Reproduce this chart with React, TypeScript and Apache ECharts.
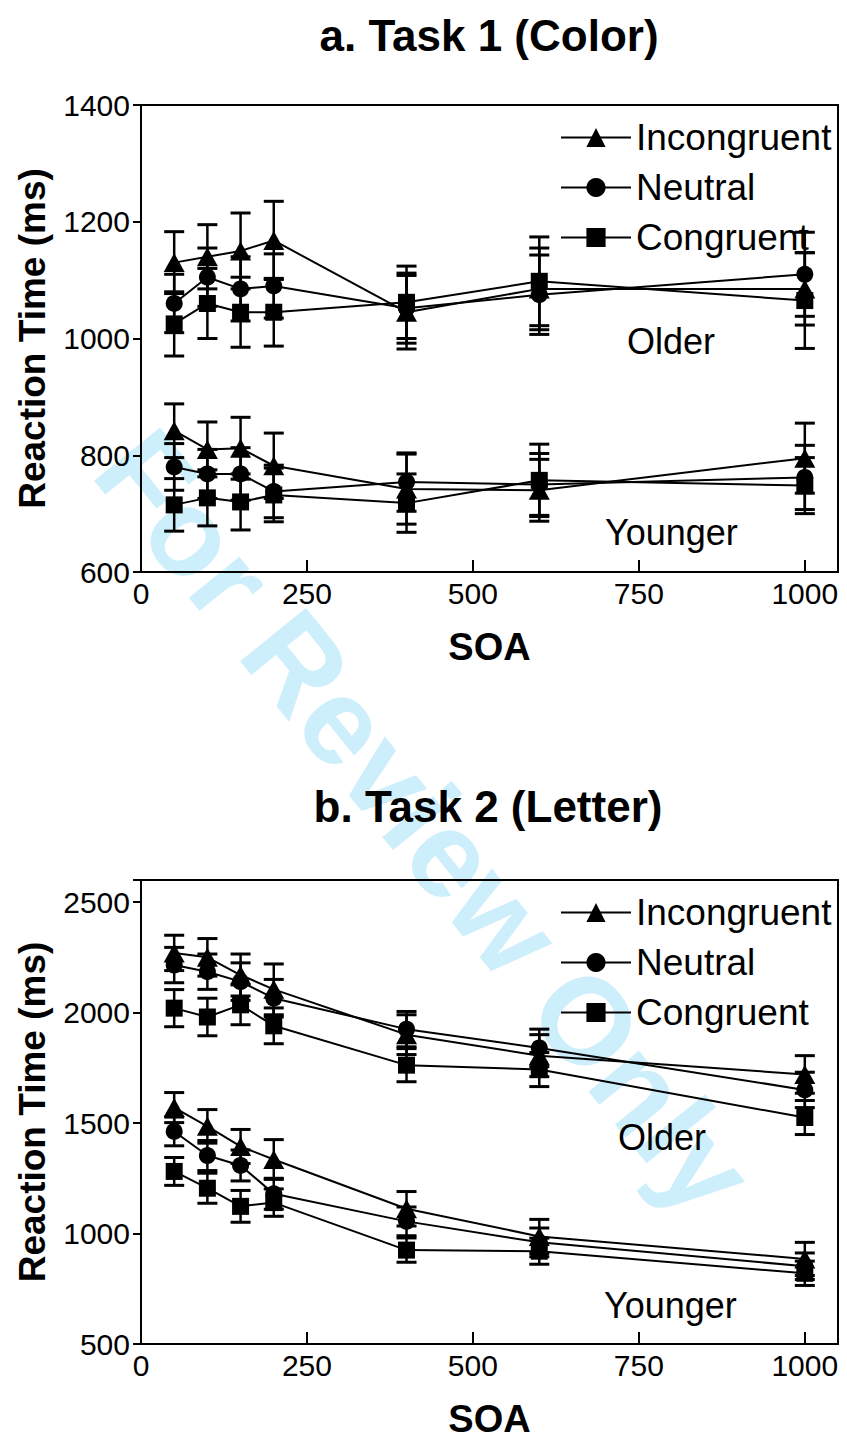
import React, { useEffect, useRef } from "react";
import * as echarts from "echarts";

// SOA levels (ms)
const SOA = [50, 100, 150, 200, 400, 600, 1000];
const CONDITIONS = ["Incongruent", "Neutral", "Congruent"];
const X_TICKS = [0, 250, 500, 750, 1000];

// Task 1 (Color) — mean RT (ms)
const t1OlderIncong = [1130, 1140, 1150, 1168, 1045, 1085, 1085];
const t1OlderNeutral = [1060, 1105, 1085, 1090, 1052, 1075, 1110];
const t1OlderCong = [1025, 1060, 1045, 1045, 1062, 1098, 1065];
const t1YoungerIncong = [842, 810, 812, 782, 742, 740, 795];
const t1YoungerNeutral = [780, 768, 768, 738, 754, 750, 762];
const t1YoungerCong = [715, 727, 720, 732, 718, 757, 748];
// Task 1 standard errors
const t1OlderIncongErr = [53, 55, 65, 67, 63, 70, 62];
const t1OlderNeutralErr = [50, 50, 55, 55, 60, 68, 72];
const t1OlderCongErr = [55, 60, 60, 58, 62, 76, 82];
const t1YoungerIncongErr = [46, 47, 53, 56, 60, 53, 60];
const t1YoungerNeutralErr = [40, 42, 45, 45, 50, 53, 55];
const t1YoungerCongErr = [45, 48, 48, 46, 50, 62, 48];

// Task 2 (Letter) — mean RT (ms)
const t2OlderIncong = [2270, 2250, 2170, 2105, 1900, 1805, 1720];
const t2OlderNeutral = [2215, 2185, 2140, 2065, 1925, 1840, 1650];
const t2OlderCong = [2020, 1980, 2035, 1940, 1762, 1742, 1525];
const t2YoungerIncong = [1570, 1485, 1394, 1335, 1112, 987, 885];
const t2YoungerNeutral = [1462, 1353, 1308, 1180, 1055, 960, 852];
const t2YoungerCong = [1281, 1205, 1123, 1140, 925, 920, 820];
// Task 2 standard errors
const t2OlderIncongErr = [80, 85, 95, 115, 90, 95, 85];
const t2OlderNeutralErr = [80, 80, 85, 85, 80, 85, 80];
const t2OlderCongErr = [84, 85, 90, 81, 75, 77, 77];
const t2YoungerIncongErr = [68, 76, 77, 90, 78, 77, 75];
const t2YoungerNeutralErr = [65, 68, 70, 70, 65, 65, 60];
const t2YoungerCongErr = [63, 68, 72, 62, 55, 59, 55];

const FONT = "'Liberation Sans', Arial, Helvetica, sans-serif";
const SYMBOLS: Record<string, { symbol: string; size: any }> = {
  Incongruent: { symbol: "triangle", size: [21, 19] },
  Neutral: { symbol: "circle", size: 17 },
  Congruent: { symbol: "rect", size: 17 },
};

function lineSeries(name: string, values: number[], idx: number) {
  return {
    type: "line",
    name,
    xAxisIndex: idx,
    yAxisIndex: idx,
    data: SOA.map((x, i) => [x, values[i]]),
    symbol: SYMBOLS[name].symbol,
    symbolSize: SYMBOLS[name].size,
    showAllSymbol: true,
    lineStyle: { color: "#000", width: 2 },
    itemStyle: { color: "#000" },
    z: 4,
    silent: true,
  };
}

function errSeries(name: string, values: number[], errs: number[], idx: number) {
  return {
    type: "custom",
    name: name + " SE",
    xAxisIndex: idx,
    yAxisIndex: idx,
    encode: { x: 0, y: [1, 2] },
    data: SOA.map((x, i) => [x, values[i] - errs[i], values[i] + errs[i]]),
    z: 3,
    silent: true,
    renderItem: (params: any, api: any) => {
      const x = api.value(0);
      const lo = api.coord([x, api.value(1)]);
      const hi = api.coord([x, api.value(2)]);
      const hw = 10;
      const st = { stroke: "#000", lineWidth: 2.5 };
      const cap = { stroke: "#000", lineWidth: 3 };
      return {
        type: "group",
        children: [
          { type: "line", shape: { x1: lo[0], y1: lo[1], x2: hi[0], y2: hi[1] }, style: st },
          { type: "line", shape: { x1: lo[0] - hw, y1: lo[1], x2: lo[0] + hw, y2: lo[1] }, style: cap },
          { type: "line", shape: { x1: hi[0] - hw, y1: hi[1], x2: hi[0] + hw, y2: hi[1] }, style: cap },
        ],
      };
    },
  };
}

function panelSeries(idx: number, groups: [string, number[], number[]][]) {
  const out: any[] = [];
  groups.forEach(([name, v, e]) => out.push(errSeries(name, v, e, idx)));
  groups.forEach(([name, v]) => out.push(lineSeries(name, v, idx)));
  return out;
}

export default function App() {
  const ref = useRef<HTMLDivElement>(null);
  useEffect(() => {
    if (!ref.current) return;
    const chart = echarts.init(ref.current, null, { renderer: "svg" });

    const grids = [
      { left: 141, top: 105, width: 697, height: 467 },
      { left: 141, top: 880, width: 697, height: 465 },
    ];
    const yRanges = [
      { min: 600, max: 1400, interval: 200 },
      { min: 500, max: 2600, interval: 500 },
    ];

    const series = [
      ...panelSeries(0, [
        ["Incongruent", t1OlderIncong, t1OlderIncongErr],
        ["Neutral", t1OlderNeutral, t1OlderNeutralErr],
        ["Congruent", t1OlderCong, t1OlderCongErr],
        ["Incongruent", t1YoungerIncong, t1YoungerIncongErr],
        ["Neutral", t1YoungerNeutral, t1YoungerNeutralErr],
        ["Congruent", t1YoungerCong, t1YoungerCongErr],
      ]),
      ...panelSeries(1, [
        ["Incongruent", t2OlderIncong, t2OlderIncongErr],
        ["Neutral", t2OlderNeutral, t2OlderNeutralErr],
        ["Congruent", t2OlderCong, t2OlderCongErr],
        ["Incongruent", t2YoungerIncong, t2YoungerIncongErr],
        ["Neutral", t2YoungerNeutral, t2YoungerNeutralErr],
        ["Congruent", t2YoungerCong, t2YoungerCongErr],
      ]),
    ];

    const textEl = (text: string, x: number, y: number, size: number, bold: boolean, align = "center") => ({
      type: "text",
      x,
      y,
      z: 10,
      silent: true,
      style: {
        text,
        fill: "#000",
        font: `${bold ? "bold " : ""}${size}px ${FONT}`,
        align,
        verticalAlign: "middle",
      },
    });

    const option: any = {
      animation: false,
      backgroundColor: "#fff",
      grid: grids.map((g) => ({
        ...g,
        show: true,
        borderColor: "#000",
        borderWidth: 2,
        backgroundColor: "transparent",
        z: 2,
      })),
      xAxis: grids.map((_, i) => ({
        type: "value",
        gridIndex: i,
        min: 0,
        max: 1050,
        interval: 250,
        name: "SOA",
        nameLocation: "middle",
        nameGap: 56,
        nameTextStyle: { fontSize: 38, fontWeight: "bold", color: "#000", fontFamily: FONT },
        axisLine: { show: true, lineStyle: { color: "#000", width: 2 } },
        axisTick: { show: true, inside: true, length: 12, lineStyle: { color: "#000", width: 2 } },
        axisLabel: {
          fontSize: 30,
          color: "#000",
          fontFamily: FONT,
          margin: 6,
          showMaxLabel: true,
          formatter: (v: number) => (X_TICKS.indexOf(v) >= 0 ? String(v) : ""),
        },
        splitLine: { show: false },
      })),
      yAxis: grids.map((_, i) => ({
        type: "value",
        gridIndex: i,
        ...yRanges[i],
        name: "Reaction Time (ms)",
        nameLocation: "middle",
        nameGap: 90,
        nameTextStyle: { fontSize: 37, fontWeight: "bold", color: "#000", fontFamily: FONT },
        axisLine: { show: true, lineStyle: { color: "#000", width: 2 } },
        axisTick: { show: true, inside: false, length: 8, lineStyle: { color: "#000", width: 2 } },
        axisLabel: {
          fontSize: 30,
          color: "#000",
          fontFamily: FONT,
          margin: 11,
          formatter: (v: number) => (v % yRanges[i].interval === 0 ? String(v) : ""),
        },
        splitLine: { show: false },
      })),
      legend: [114, 889].map((top) => ({
        data: CONDITIONS,
        orient: "vertical",
        left: 555,
        top,
        itemWidth: 70,
        itemHeight: 24,
        itemGap: 13,
        selectedMode: false,
        textStyle: { fontSize: 37, color: "#000", fontFamily: FONT },
      })),
      graphic: [
        {
          type: "text",
          x: 425,
          y: 822,
          rotation: -0.89,
          z: -10,
          silent: true,
          style: {
            text: "For Review Only",
            fill: "#cdeefb",
            font: `bold 123px ${FONT}`,
            align: "center",
            verticalAlign: "middle",
          },
        },
        textEl("a. Task 1 (Color)", 489, 35, 44, true),
        textEl("b. Task 2 (Letter)", 488, 806, 44, true),
        textEl("Older", 627, 341, 36, false, "left"),
        textEl("Younger", 605, 532, 36, false, "left"),
        textEl("Older", 618, 1137, 36, false, "left"),
        textEl("Younger", 604, 1305, 36, false, "left"),
      ],
      series,
    };
    chart.setOption(option);
    return () => chart.dispose();
  }, []);

  return (
    <div
      ref={ref}
      style={{ position: "absolute", left: 0, top: 0, width: 847, height: 1439, background: "#fff" }}
    />
  );
}
